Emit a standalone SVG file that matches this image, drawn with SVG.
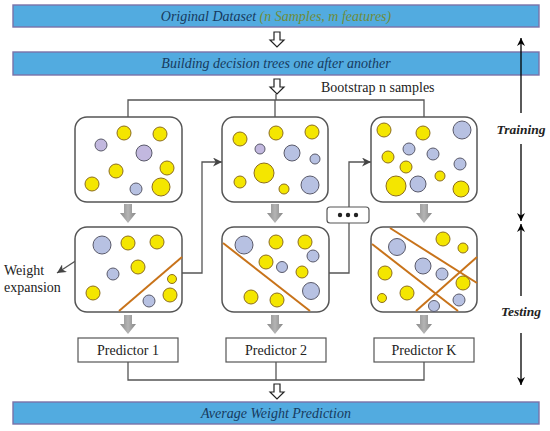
<svg xmlns="http://www.w3.org/2000/svg" width="550" height="431" viewBox="0 0 550 431">
<style>
.bar{fill:#52abe0;stroke:#7a72a8;stroke-width:1.4}
.bt{font-family:"Liberation Serif",serif;font-style:italic;font-size:14px;fill:#173a5e;text-anchor:middle}
.box{fill:#fff;stroke:#555;stroke-width:1.5}
.y{fill:#f4e600;stroke:#8c6d1f;stroke-width:1}
.b{fill:#b7c1e2;stroke:#5a5a6a;stroke-width:1}
.p{fill:#c2b8df;stroke:#5a5a6a;stroke-width:1}
.cut{stroke:#c8731a;stroke-width:2;fill:none}
.ln{fill:none;stroke:#555;stroke-width:1.3}
.ax{fill:none;stroke:#000;stroke-width:1.3}
.t{font-family:"Liberation Serif",serif;font-size:14px;fill:#222}
.lab{font-family:"Liberation Serif",serif;font-style:italic;font-weight:bold;font-size:13.5px;fill:#222;text-anchor:middle}
.pred{fill:#fff;stroke:#555;stroke-width:1.2}
.hol{fill:#fff;stroke:#222;stroke-width:1.2}
</style>
<defs>
<linearGradient id="gg" x1="0" y1="0" x2="1" y2="0">
<stop offset="0" stop-color="#8a8a8a"/><stop offset="0.5" stop-color="#b4b4b4"/><stop offset="1" stop-color="#858585"/>
</linearGradient>
<marker id="ah" viewBox="0 0 10 10" refX="10" refY="5" markerWidth="8" markerHeight="9" markerUnits="userSpaceOnUse" orient="auto-start-reverse">
<path d="M0,0 L10,5 L0,10 L3,5 Z" fill="#000"/>
</marker>
<marker id="ah2" viewBox="0 0 10 10" refX="10" refY="5" markerWidth="9" markerHeight="9" markerUnits="userSpaceOnUse" orient="auto">
<path d="M0,0 L10,5 L0,10 L3,5 Z" fill="#444"/>
</marker>
<path id="garrow" d="M-4,0 H4 V9 H8 L0,19 L-8,9 H-4 Z" fill="url(#gg)"/>
<path id="harrow" d="M-3,0 H3 V8 H7 L0,15 L-7,8 H-3 Z"/>
</defs>

<g id="bar-original">
<rect class="bar" x="13" y="5" width="526" height="22"/>
<text class="bt" x="276" y="21">Original Dataset <tspan fill="#6f8b3a">(n Samples, m features)</tspan></text>
</g>
<g id="bar-building">
<rect class="bar" x="13" y="52" width="526" height="23"/>
<text class="bt" x="276" y="68">Building decision trees one after another</text>
</g>
<g id="bar-average">
<rect class="bar" x="13" y="402" width="526" height="22"/>
<text class="bt" x="276" y="418">Average Weight Prediction</text>
</g>

<g id="connectors">
<use href="#harrow" class="hol" x="277" y="32"/>
<use href="#harrow" class="hol" x="277" y="79"/>
<use href="#harrow" class="hol" x="277" y="384"/>
<path class="ln" d="M276,94 V100"/>
<path class="ln" d="M128,117 V100 H424 V117"/>
<path class="ln" d="M275,100 V117"/>
<path class="ln" d="M182,273 H202 V162 H222" marker-end="url(#ah2)"/>
<path class="ln" d="M329,273 H349 V162 H371" marker-end="url(#ah2)"/>
<path class="ln" d="M128,362 V380 H424 V362"/>
<path class="ln" d="M276,362 V380"/>
<path class="ln" d="M94,249 L57,273" stroke="#333" marker-end="url(#ah2)"/>
<use href="#garrow" x="128" y="204"/>
<use href="#garrow" x="275" y="204"/>
<use href="#garrow" x="424" y="204"/>
<use href="#garrow" x="128" y="315"/>
<use href="#garrow" x="275" y="315"/>
<use href="#garrow" x="424" y="315"/>
<path class="ax" d="M521,113 V38" marker-end="url(#ah)"/>
<path class="ax" d="M521,144 V221" marker-end="url(#ah)"/>
<path class="ax" d="M521,296 V224" marker-end="url(#ah)"/>
<path class="ax" d="M521,333 V385" marker-end="url(#ah)"/>
</g>

<text class="t" x="321" y="92">Bootstrap n samples</text>
<text class="t" x="4" y="275">Weight</text>
<text class="t" x="4" y="292">expansion</text>
<text class="lab" x="521" y="134">Training</text>
<text class="lab" x="521" y="316">Testing</text>

<g id="sample-1">
<rect class="box" x="75" y="117" width="107" height="85" rx="12"/>
<circle class="y" cx="124" cy="133" r="7"/>
<circle class="y" cx="160" cy="134" r="7"/>
<circle class="p" cx="101" cy="145" r="6"/>
<circle class="p" cx="144" cy="153" r="8"/>
<circle class="y" cx="116" cy="171" r="7"/>
<circle class="y" cx="167" cy="168" r="7"/>
<circle class="y" cx="92" cy="184" r="7"/>
<circle class="b" cx="136" cy="189" r="6"/>
<circle class="y" cx="161" cy="187" r="9"/>
</g>
<g id="sample-2">
<rect class="box" x="222" y="117" width="106" height="85" rx="12"/>
<circle class="y" cx="240" cy="139" r="7"/>
<circle class="y" cx="276" cy="133" r="7"/>
<circle class="y" cx="312" cy="132" r="7"/>
<circle class="p" cx="260" cy="149" r="5"/>
<circle class="b" cx="292" cy="153" r="8"/>
<circle class="b" cx="315" cy="159" r="5"/>
<circle class="y" cx="264" cy="173" r="10"/>
<circle class="y" cx="240" cy="182" r="6"/>
<circle class="y" cx="284" cy="189" r="5"/>
<circle class="b" cx="310" cy="185" r="9"/>
</g>
<g id="sample-3">
<rect class="box" x="371" y="117" width="106" height="85" rx="12"/>
<circle class="y" cx="384" cy="130" r="7"/>
<circle class="y" cx="423" cy="133" r="7"/>
<circle class="b" cx="462" cy="130" r="9"/>
<circle class="b" cx="409" cy="149" r="6"/>
<circle class="y" cx="388" cy="157" r="6"/>
<circle class="b" cx="433" cy="154" r="6"/>
<circle class="y" cx="406" cy="167" r="6"/>
<circle class="b" cx="460" cy="164" r="6"/>
<circle class="y" cx="440" cy="176" r="5"/>
<circle class="y" cx="396" cy="186" r="10"/>
<circle class="b" cx="418" cy="184" r="8"/>
<circle class="y" cx="461" cy="189" r="8"/>
</g>

<g id="dots">
<rect x="327" y="207" width="42" height="16" rx="3" fill="#fff" stroke="#555" stroke-width="1.2"/>
<circle cx="340" cy="215" r="2.2" fill="#222"/>
<circle cx="348" cy="215" r="2.2" fill="#222"/>
<circle cx="356" cy="215" r="2.2" fill="#222"/>
</g>

<g id="tree-1">
<rect class="box" x="75" y="227" width="107" height="85" rx="12"/>
<path class="cut" d="M119,311 L182,257"/>
<circle class="b" cx="102" cy="245" r="9"/>
<circle class="y" cx="128" cy="243" r="7"/>
<circle class="y" cx="157" cy="242" r="7"/>
<circle class="y" cx="138" cy="267" r="7"/>
<circle class="b" cx="113" cy="274" r="6"/>
<circle class="y" cx="93" cy="293" r="7"/>
<circle class="b" cx="149" cy="301" r="6"/>
<circle class="y" cx="170" cy="295" r="7"/>
<circle class="y" cx="172" cy="279" r="4.5"/>
</g>
<g id="tree-2">
<rect class="box" x="222" y="227" width="107" height="85" rx="12"/>
<path class="cut" d="M223,243 L310,311"/>
<circle class="b" cx="244" cy="245" r="9"/>
<circle class="y" cx="276" cy="242" r="7"/>
<circle class="y" cx="305" cy="242" r="7"/>
<circle class="b" cx="313" cy="256" r="6"/>
<circle class="y" cx="266" cy="262" r="7"/>
<circle class="b" cx="282" cy="267" r="5.5"/>
<circle class="y" cx="302" cy="272" r="6"/>
<circle class="b" cx="311" cy="291" r="8.5" stroke="#333" stroke-width="1.8"/>
<circle class="y" cx="251" cy="297" r="7"/>
<circle class="y" cx="277" cy="300" r="7"/>
</g>
<g id="tree-3">
<rect class="box" x="371" y="227" width="106" height="85" rx="12"/>
<path class="cut" d="M390,228 L477,283"/>
<path class="cut" d="M372,244 L458,311"/>
<path class="cut" d="M416,311 L477,257"/>
<circle class="y" cx="443" cy="239" r="7"/>
<circle class="y" cx="463" cy="248" r="5"/>
<circle class="b" cx="397" cy="247" r="8.5"/>
<circle class="b" cx="423" cy="266" r="8"/>
<circle class="b" cx="442" cy="274" r="6"/>
<circle class="y" cx="385" cy="273" r="7"/>
<circle class="y" cx="463" cy="283" r="7"/>
<circle class="y" cx="407" cy="293" r="7"/>
<circle class="y" cx="382" cy="298" r="4.5"/>
<circle class="b" cx="459" cy="300" r="6"/>
<circle class="b" cx="434" cy="306" r="5.5"/>
</g>

<g id="predictor-1">
<rect class="pred" x="78" y="338" width="100" height="24"/>
<text class="t" x="128" y="355" text-anchor="middle">Predictor 1</text>
</g>
<g id="predictor-2">
<rect class="pred" x="226" y="338" width="100" height="24"/>
<text class="t" x="276" y="355" text-anchor="middle">Predictor 2</text>
</g>
<g id="predictor-k">
<rect class="pred" x="374" y="338" width="100" height="24"/>
<text class="t" x="424" y="355" text-anchor="middle">Predictor K</text>
</g>
</svg>
